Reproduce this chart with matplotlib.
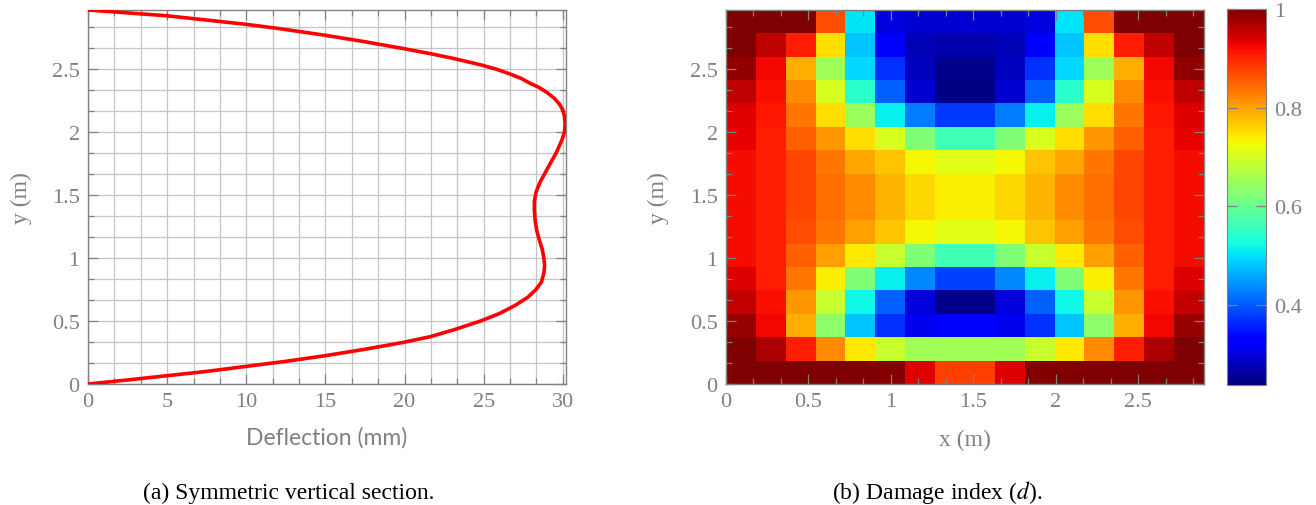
import numpy as np
import matplotlib
matplotlib.use('Agg')
import matplotlib.pyplot as plt
from matplotlib.ticker import MultipleLocator, FormatStrFormatter

# (a) deflection profile along the height of the section
deflection = [0, 5.0, 10.0, 12.1, 15.0, 17.5, 20.0, 21.6, 23.1, 24.8, 25.8, 26.7,
              27.4, 27.9, 28.5, 29.0, 29.45, 29.8, 30.0, 30.1, 30.15, 30.1, 29.95,
              29.6, 29.2, 28.9, 28.55, 28.3, 28.2, 28.2, 28.25, 28.35, 28.5, 28.7,
              28.8, 28.85, 28.8, 28.65, 28.3, 27.8, 27.0, 26.0, 24.8, 23.1, 21.6,
              19.9, 17.5, 15.0, 12.5, 10.0, 7.5, 5.0, 2.5, 0]
height = [2.97, 2.924, 2.856, 2.822, 2.769, 2.718, 2.662, 2.624, 2.585, 2.535,
          2.50, 2.46, 2.425, 2.39, 2.355, 2.315, 2.27, 2.22, 2.175, 2.13, 2.065,
          2.0, 1.94, 1.84, 1.75, 1.68, 1.60, 1.52, 1.45, 1.38, 1.30, 1.22, 1.15,
          1.07, 1.0, 0.94, 0.88, 0.81, 0.75, 0.69, 0.625, 0.56, 0.50, 0.43,
          0.375, 0.33, 0.276, 0.225, 0.18, 0.14, 0.10, 0.066, 0.032, 0]

# (b) damage index, rows from top (y = 2.97) to bottom (y = 0)
damage = [
    [1.0, 1.0, 1.0, 0.867, 0.503, 0.301, 0.292, 0.292, 0.292, 0.292, 0.301, 0.503, 0.867, 1.0, 1.0, 1.0],
    [1.0, 0.958, 0.906, 0.75, 0.482, 0.326, 0.275, 0.27, 0.27, 0.275, 0.326, 0.482, 0.75, 0.906, 0.958, 1.0],
    [0.986, 0.924, 0.79, 0.653, 0.495, 0.369, 0.28, 0.248, 0.248, 0.28, 0.369, 0.495, 0.653, 0.79, 0.924, 0.986],
    [0.958, 0.918, 0.816, 0.705, 0.543, 0.405, 0.292, 0.242, 0.242, 0.292, 0.405, 0.543, 0.705, 0.816, 0.918, 0.958],
    [0.936, 0.912, 0.834, 0.75, 0.646, 0.512, 0.428, 0.375, 0.375, 0.428, 0.512, 0.646, 0.75, 0.834, 0.912, 0.936],
    [0.93, 0.906, 0.854, 0.808, 0.75, 0.705, 0.623, 0.564, 0.564, 0.623, 0.705, 0.75, 0.808, 0.854, 0.906, 0.93],
    [0.922, 0.906, 0.874, 0.834, 0.796, 0.771, 0.73, 0.713, 0.713, 0.73, 0.771, 0.796, 0.834, 0.874, 0.906, 0.922],
    [0.922, 0.906, 0.874, 0.841, 0.816, 0.783, 0.757, 0.737, 0.737, 0.757, 0.783, 0.816, 0.841, 0.874, 0.906, 0.922],
    [0.922, 0.906, 0.874, 0.841, 0.816, 0.783, 0.757, 0.737, 0.737, 0.757, 0.783, 0.816, 0.841, 0.874, 0.906, 0.922],
    [0.922, 0.906, 0.867, 0.834, 0.802, 0.771, 0.73, 0.713, 0.713, 0.73, 0.771, 0.802, 0.834, 0.867, 0.906, 0.922],
    [0.922, 0.906, 0.854, 0.802, 0.744, 0.69, 0.623, 0.564, 0.564, 0.623, 0.69, 0.744, 0.802, 0.854, 0.906, 0.922],
    [0.936, 0.906, 0.834, 0.737, 0.623, 0.512, 0.435, 0.381, 0.381, 0.435, 0.512, 0.623, 0.737, 0.834, 0.906, 0.936],
    [0.953, 0.918, 0.808, 0.69, 0.52, 0.405, 0.301, 0.248, 0.248, 0.301, 0.405, 0.52, 0.69, 0.808, 0.918, 0.953],
    [0.985, 0.924, 0.79, 0.635, 0.482, 0.369, 0.315, 0.335, 0.335, 0.315, 0.369, 0.482, 0.635, 0.79, 0.924, 0.985],
    [1.0, 0.968, 0.906, 0.82, 0.744, 0.69, 0.653, 0.653, 0.653, 0.653, 0.69, 0.744, 0.82, 0.906, 0.968, 1.0],
    [1.0, 1.0, 1.0, 1.0, 1.0, 0.995, 0.936, 0.88, 0.88, 0.936, 0.995, 1.0, 1.0, 1.0, 1.0, 1.0],
]
wall_width = 2.9
wall_height = 2.97
cbar_ticks = [0.4, 0.6, 0.8, 1.0]

plt.rcParams['font.family'] = ['Liberation Serif', 'DejaVu Serif']
plt.rcParams['mathtext.fontset'] = 'stix'

grey = '#808080'
W, H = 1316, 506
fig = plt.figure(figsize=(W / 100, H / 100), dpi=100)


def box(x0, y0, x1, y1):
    return [x0 / W, (H - y1) / H, (x1 - x0) / W, (y1 - y0) / H]


def style_axis(ax):
    for s in ax.spines.values():
        s.set_color(grey)
        s.set_linewidth(1.0)
    ax.tick_params(which='both', direction='in', top=True, right=True,
                   color=grey, labelcolor=grey, labelsize=16, width=0.9)
    ax.tick_params(which='major', length=7, pad=6)
    ax.tick_params(which='minor', length=4.5)
    ax.xaxis.set_major_formatter(FormatStrFormatter('%g'))
    ax.yaxis.set_major_formatter(FormatStrFormatter('%g'))


# left: deflection
ax1 = fig.add_axes(box(88, 11, 566, 385))
ax1.plot(deflection, height, color='red', lw=2.6, solid_joinstyle='round', zorder=3)
ax1.set_xlim(0, 30.2)
ax1.set_ylim(0, wall_height)
ax1.xaxis.set_major_locator(MultipleLocator(5))
ax1.xaxis.set_minor_locator(MultipleLocator(5 / 3))
ax1.yaxis.set_major_locator(MultipleLocator(0.5))
ax1.yaxis.set_minor_locator(MultipleLocator(0.5 / 3))
ax1.grid(which='both', color='#c4c4c4', lw=0.9)
ax1.set_axisbelow(True)
style_axis(ax1)
ax1.set_xlabel('Deflection (mm)', family='Lato', fontsize=16.5, color=grey, va='center')
ax1.xaxis.set_label_coords(0.5, -0.142)
ax1.set_ylabel('y (m)', fontsize=17, color=grey, va='center')
ax1.yaxis.set_label_coords(-0.139, 0.5)

# right: damage map
ax2 = fig.add_axes(box(726, 11, 1204, 385))
im = ax2.imshow(np.array(damage), cmap='jet', vmin=0.238, vmax=1.0, aspect='auto',
                interpolation='nearest', extent=[0, wall_width, 0, wall_height])
ax2.set_xlim(0, wall_width)
ax2.set_ylim(0, wall_height)
ax2.xaxis.set_major_locator(MultipleLocator(0.5))
ax2.xaxis.set_minor_locator(MultipleLocator(0.5 / 3))
ax2.yaxis.set_major_locator(MultipleLocator(0.5))
ax2.yaxis.set_minor_locator(MultipleLocator(0.5 / 3))
style_axis(ax2)
ax2.set_xlabel('x (m)', fontsize=17, color=grey, va='center')
ax2.xaxis.set_label_coords(0.5, -0.147)
ax2.set_ylabel('y (m)', fontsize=17, color=grey, va='center')
ax2.yaxis.set_label_coords(-0.142, 0.5)

cax = fig.add_axes(box(1227, 10, 1266, 386))
cb = fig.colorbar(im, cax=cax, ticks=cbar_ticks, format=FormatStrFormatter('%g'))
cb.outline.set_edgecolor(grey)
cb.ax.tick_params(direction='in', left=True, right=True, length=7, color=grey,
                  labelcolor=grey, labelsize=16, width=0.9, pad=6)

fig.text(289 / W, (H - 493) / H, '(a) Symmetric vertical section.', fontsize=17,
         ha='center', va='center')
fig.text(937 / W, (H - 493) / H, '(b) Damage index ($d$).', fontsize=17,
         ha='center', va='center')

fig.savefig('out.png', dpi=100)
